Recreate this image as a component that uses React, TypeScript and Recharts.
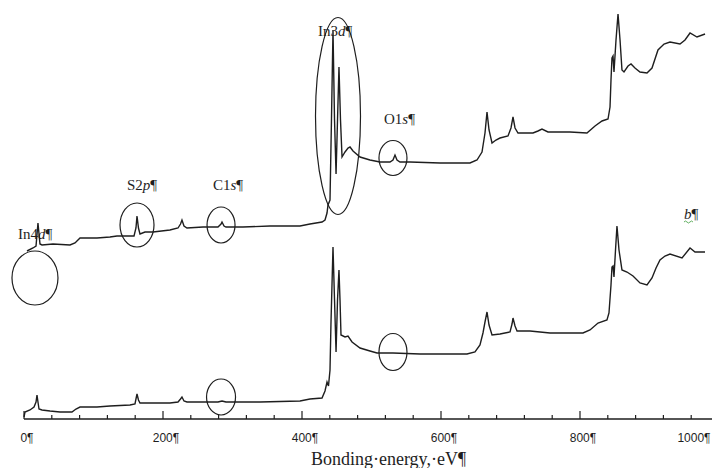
import { Label, Line, LineChart, ReferenceDot, XAxis, YAxis } from "recharts";

// [binding energy (eV), intensity (a.u.)]
const upperSpectrum: [number, number][] = [
  [4.3, 168], [12.9, 171], [17.3, 173], [20.1, 196], [23, 175], [25.9, 174], [41.7, 175],
  [66.2, 174], [73.4, 176], [80.6, 181], [105, 181], [123.7, 182], [133.8, 183], [152.5, 183],
  [158.3, 183], [161.1, 191], [162.6, 203], [164.7, 191], [166.9, 185], [174.1, 187],
  [185.6, 187], [210, 189], [221.6, 191], [225.2, 195], [227.3, 199], [230.2, 193],
  [234.5, 191], [257.6, 192], [279.1, 192], [283.5, 195], [284.9, 197], [287.8, 193],
  [290.6, 192], [315.1, 192], [354, 193], [397.1, 193], [411.5, 195], [428.8, 197],
  [433.1, 199], [436, 206], [437.4, 214], [440.3, 219], [442.4, 299], [444.6, 389],
  [446.8, 299], [449, 245], [451.1, 299], [453.2, 352], [455.4, 299], [457.6, 262],
  [461.9, 267], [466.2, 271], [469.1, 272], [473.4, 268], [483.5, 262], [497.8, 259],
  [512.2, 257], [526.6, 257], [530.9, 259], [533.8, 264], [536.7, 259], [541, 257],
  [555.4, 257], [598.6, 256], [641.7, 256], [651.8, 259], [659, 267], [663.3, 286],
  [666.2, 307], [669.1, 289], [673.4, 276], [679.1, 279], [684.9, 281], [696.4, 283],
  [700.7, 291], [703.6, 302], [706.5, 291], [710.8, 286], [723.7, 286], [732.4, 286],
  [739.5, 288], [745.3, 290], [753.9, 287], [785.6, 287], [810, 286], [821.6, 293],
  [831.7, 298], [840.3, 300], [843.2, 312], [844.6, 339], [846, 361], [847.5, 363],
  [848.9, 347], [851.8, 379], [854.7, 405], [857.6, 379], [860.4, 349], [863.3, 347],
  [869.1, 353], [873.4, 355], [879.1, 351], [886.3, 347], [896.4, 346], [903.6, 351],
  [912.2, 369], [920.9, 375], [929.5, 377], [943.9, 375], [951.1, 379], [958.3, 386],
  [968.3, 382], [979.9, 385],
];

const lowerSpectrum: [number, number][] = [
  [0, 2], [1.4, 7], [8.6, 9], [14.4, 12], [17.3, 17], [18.7, 24], [20.1, 17], [21.6, 10],
  [25.9, 9], [37.4, 8], [51.8, 7], [69, 7], [74.8, 10], [80.6, 12], [105, 12], [123.7, 13],
  [152.5, 14], [159.7, 15], [161.1, 20], [162.6, 25], [164.7, 19], [166.9, 16], [210, 16],
  [221.6, 17], [225.2, 20], [227.3, 22], [230.2, 18], [234.5, 17], [253.2, 17], [279.1, 17],
  [284.9, 18], [290.6, 17], [339.6, 17], [397.1, 18], [411.5, 20], [428.8, 21], [433.1, 28],
  [436, 37], [438.1, 33], [440.3, 49], [441.7, 96], [444.6, 172], [446.8, 119], [449, 67],
  [451.1, 119], [453.2, 149], [454.7, 119], [456.1, 84], [461.9, 82], [466.2, 83], [472, 77],
  [483.5, 71], [497.8, 68], [507.9, 66], [530.9, 66], [569.9, 65], [637.4, 65], [648.9, 67],
  [656.1, 74], [660.4, 86], [663.3, 97], [666.2, 107], [669.1, 94], [673.4, 84], [684.9, 85],
  [699.3, 87], [702.2, 95], [703.6, 101], [706.5, 93], [709.4, 88], [728.1, 88], [756.8, 86],
  [804.3, 86], [814.4, 89], [825.9, 96], [838.8, 99], [841.7, 106], [844.6, 134], [846, 152],
  [847.5, 153], [848.9, 142], [851.1, 169], [853.2, 193], [856.1, 169], [860.4, 149],
  [867.6, 147], [876.3, 143], [886.3, 136], [896.4, 134], [903.6, 141], [909.4, 151],
  [915.1, 159], [922.3, 163], [929.5, 165], [946.8, 161], [958.3, 171], [965.5, 167],
  [979.9, 167],
];

const energyTicks = [
  0, 40, 80, 120, 160, 200, 240, 280, 320, 360, 400, 440, 480, 520, 560, 600, 640, 680,
  720, 760, 800, 840, 880, 920, 960, 1000,
];

// circled regions: centre in data units, radii in px
const circles = [
  { ev: 15.8, y: 141, rx: 23, ry: 27 },
  { ev: 162.6, y: 194, rx: 17, ry: 22 },
  { ev: 283.5, y: 194, rx: 14, ry: 18 },
  { ev: 451.8, y: 303, rx: 22.5, ry: 98.5 },
  { ev: 530.9, y: 261, rx: 14, ry: 17.5 },
  { ev: 283.5, y: 22, rx: 14.5, ry: 18 },
  { ev: 530.9, y: 67, rx: 14, ry: 18.5 },
];

// peak labels: text start / baseline in data units
const peakLabels = [
  { ev: -8.6, y: 180, plain: "In4", italic: "d" },
  { ev: 148.2, y: 229, plain: "S2", italic: "p" },
  { ev: 271.9, y: 229, plain: "C1", italic: "s" },
  { ev: 423, y: 383, plain: "In3", italic: "d" },
  { ev: 518, y: 295, plain: "O1", italic: "s" },
  { ev: 949.6, y: 200, plain: "", italic: "b" },
];

const upperData = upperSpectrum.map(([ev, counts]) => ({ ev, counts }));
const lowerData = lowerSpectrum.map(([ev, counts]) => ({ ev, counts }));

const INK = "#1e1e1e";
const SERIF = "'Liberation Serif', 'Times New Roman', serif";

function EnergyTick(props: any) {
  const { x, y, payload } = props;
  const v = payload.value as number;
  const major = v % 200 === 0;
  return (
    <g>
      <line x1={x} y1={y} x2={x} y2={y - (major ? 8 : 4)} stroke={INK} strokeWidth={1.2} />
      {major && (
        <text
          x={x + (v === 1000 ? -25 : 3)}
          y={y + 23}
          textAnchor="middle"
          fontSize={12}
          fontFamily="'Liberation Sans', Arial, sans-serif"
          fill={INK}
        >
          {`${v}¶`}
        </text>
      )}
    </g>
  );
}

export default function App() {
  return (
    <div
      style={{
        position: "absolute",
        left: 0,
        top: 0,
        width: 712,
        height: 468,
        overflow: "hidden",
        background: "#fff",
      }}
    >
      <LineChart width={730} height={468} margin={{ top: 0, right: 11, left: 24, bottom: 19 }}>
        <XAxis
          type="number"
          dataKey="ev"
          domain={[0, 1000]}
          ticks={energyTicks}
          interval={0}
          tick={<EnergyTick />}
          tickLine={false}
          tickSize={0}
          tickMargin={0}
          height={30}
          axisLine={{ stroke: INK, strokeWidth: 1.3 }}
        >
          <Label
            content={(p: any) => {
              const vb = p.viewBox;
              return (
                <text
                  x={vb.x + vb.width / 2 + 17}
                  y={vb.y + 46}
                  textAnchor="middle"
                  fontSize={18}
                  fontFamily={SERIF}
                  fill={INK}
                >
                  Bonding·energy,·eV¶
                </text>
              );
            }}
          />
        </XAxis>
        <YAxis type="number" domain={[0, 419]} hide />
        <Line
          data={upperData}
          dataKey="counts"
          type="linear"
          dot={false}
          stroke={INK}
          strokeWidth={1.4}
          isAnimationActive={false}
        />
        <Line
          data={lowerData}
          dataKey="counts"
          type="linear"
          dot={false}
          stroke={INK}
          strokeWidth={1.4}
          isAnimationActive={false}
        />
        {circles.map((c, i) => (
          <ReferenceDot
            key={`c${i}`}
            x={c.ev}
            y={c.y}
            r={1}
            ifOverflow="visible"
            shape={(p: any) => (
              <ellipse cx={p.cx} cy={p.cy} rx={c.rx} ry={c.ry} fill="none" stroke={INK} strokeWidth={1.2} />
            )}
          />
        ))}
        {peakLabels.map((l, i) => (
          <ReferenceDot
            key={`l${i}`}
            x={l.ev}
            y={l.y}
            r={1}
            ifOverflow="visible"
            shape={(p: any) => (
              <g>
                <text x={p.cx} y={p.cy} fontSize={15} fontFamily={SERIF} fill={INK}>
                  {l.plain}
                  <tspan fontStyle="italic">{l.italic}</tspan>
                  ¶
                </text>
                {l.plain === "" && (
                  <path
                    d={`M${p.cx} ${p.cy + 3} q1.5 -2 3 0 t3 0 t3 0`}
                    fill="none"
                    stroke="#3a9a3a"
                    strokeWidth={0.8}
                  />
                )}
              </g>
            )}
          />
        ))}
      </LineChart>
    </div>
  );
}
